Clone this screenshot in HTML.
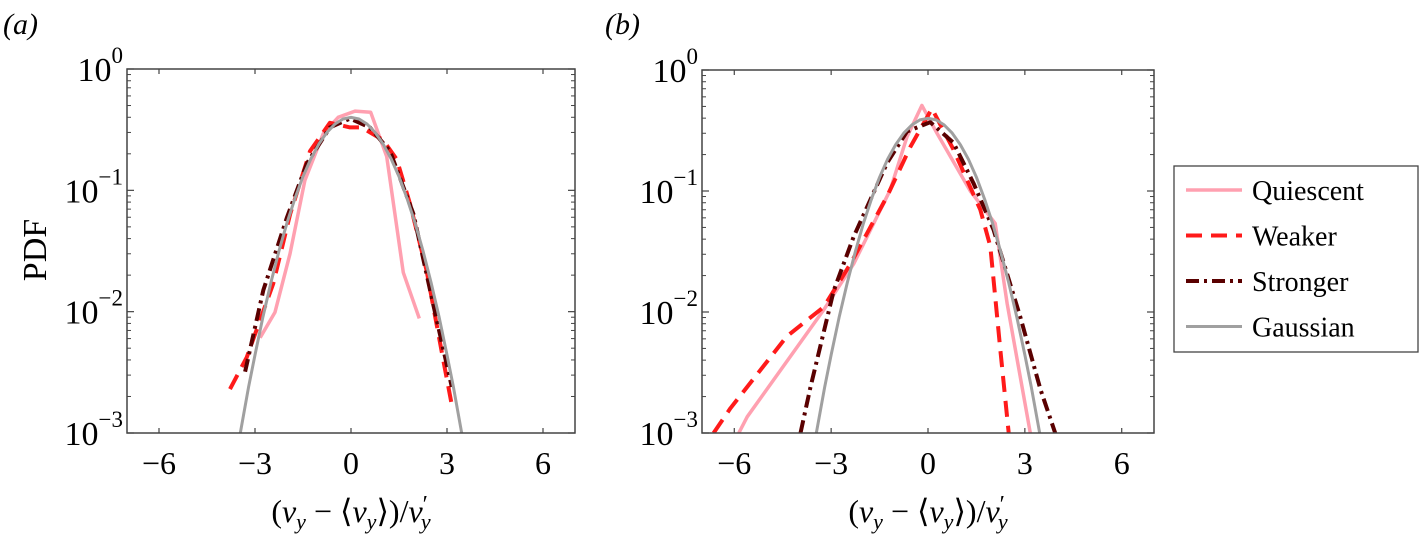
<!DOCTYPE html>
<html><head><meta charset="utf-8"><style>
body{margin:0;background:#fff;width:1421px;height:542px;overflow:hidden}
svg, svg text, svg tspan{font-family:"Liberation Serif","DejaVu Serif",serif;fill:#000}
</style></head><body>
<svg id="c" width="1421" height="542" font-family="Liberation Serif, serif"></svg>
<script>
const xTicks=[-6,-3,0,3,6];
const yDecades=[0,-1,-2,-3];
const legendLabels=["Quiescent","Weaker","Stronger","Gaussian"];
// panel a
const aQx=[-2.84,-2.375,-1.906,-1.44,-0.865,-0.40,0.125,0.615,1.115,1.635,2.135];
const aQy=[0.0061,0.0099,0.030,0.121,0.294,0.40,0.45,0.44,0.19,0.021,0.0088];
const aWx=[-3.78,-3.26,-2.43,-1.9,-1.28,-0.66,-0.03,0.33,1.0,1.43,1.84,2.36,2.89,3.15];
const aWy=[0.0023,0.0042,0.017,0.064,0.21,0.36,0.33,0.33,0.26,0.18,0.078,0.022,0.0039,0.0017];
const aSx=[-3.31,-2.74,-2.0,-1.38,-0.66,-0.03,0.59,1.22,1.95,2.57,3.15];
const aSy=[0.0032,0.015,0.06,0.166,0.33,0.39,0.33,0.21,0.064,0.0115,0.0024];
// gaussian (read values)
const gX=[-3.5,-3.2,-3,-2.75,-2.5,-2.25,-2,-1.75,-1.5,-1.25,-1,-0.75,-0.5,-0.25,0,0.25,0.5,0.75,1,1.25,1.5,1.75,2,2.25,2.5,2.75,3,3.2,3.5];
const gY=[0.00087,0.0024,0.0044,0.0091,0.0175,0.0317,0.054,0.086,0.130,0.183,0.242,0.301,0.352,0.387,0.399,0.387,0.352,0.301,0.242,0.183,0.130,0.086,0.054,0.0317,0.0175,0.0091,0.0044,0.0024,0.00087];
// panel b
const bQx=[-5.86,-5.6,-3.23,-2.3,-1.17,-0.65,-0.19,0.28,1.31,2.08,2.45,3.17];
const bQy=[0.001,0.00136,0.0104,0.025,0.102,0.28,0.51,0.30,0.10,0.054,0.0118,0.001];
const bWx=[-6.64,-6.12,-4.37,-3.23,-2.4,-1.27,-0.55,0.12,0.79,1.62,1.93,2.24,2.5];
const bWy=[0.001,0.0016,0.0063,0.011,0.025,0.09,0.23,0.48,0.22,0.07,0.035,0.0049,0.001];
const bSx=[-3.95,-3.64,-2.92,-2.3,-1.27,-0.65,0.07,0.79,1.41,2.03,2.86,3.48,3.94];
const bSy=[0.001,0.0024,0.015,0.042,0.17,0.31,0.37,0.25,0.116,0.048,0.0091,0.0023,0.001];

const NS="http://www.w3.org/2000/svg";
const svg=document.getElementById('c');
function el(t,a,p){const e=document.createElementNS(NS,t);for(const k in a)e.setAttribute(k,a[k]);(p||svg).appendChild(e);return e;}
const styles=[
 {stroke:"#ffa0b0",w:3.5,dash:""},
 {stroke:"#ff1a1a",w:4,dash:"16 9"},
 {stroke:"#5a0000",w:4,dash:"13 5 3 5"},
 {stroke:"#a0a0a0",w:3,dash:""}];
function panel(L,R,T,B,series,label,lx,names){
  const sx=v=>L+(v+7)/14*(R-L);
  const sy=v=>T+(-Math.log10(v))/3*(B-T);
  const g=el('g',{});
  
  
  const clip=el('clipPath',{id:'cl'+names},g);
  el('rect',{x:L,y:T,width:R-L,height:B-T},clip);
  series.forEach((s,i)=>{
    const st=styles[i];
    const d=s[0].map((x,j)=>(j?'L':'M')+sx(x).toFixed(1)+' '+sy(s[1][j]).toFixed(1)).join(' ');
    const p=el('path',{d:d,fill:'none',stroke:st.stroke,'stroke-width':st.w,'stroke-dasharray':st.dash,'clip-path':'url(#cl'+names+')','stroke-linejoin':'round'},g);
    
    
  });
  el('rect',{x:L,y:T,width:R-L,height:B-T,fill:'none',stroke:'#444','stroke-width':1.5},g);
  xTicks.forEach(t=>{
    const x=sx(t);
    el('line',{x1:x,x2:x,y1:B,y2:B-5,stroke:'#444','stroke-width':1.2},g);
    el('line',{x1:x,x2:x,y1:T,y2:T+5,stroke:'#444','stroke-width':1.2},g);
    const tx=el('text',{x:x,y:B+41,'text-anchor':'middle','font-size':32,'font-family':'Liberation Serif, serif'},g);
    tx.textContent=t<0?'\u2212'+(-t):String(t);
    
    
  });
  yDecades.forEach(dd=>{
    const y=sy(Math.pow(10,dd));
    el('line',{x1:L,x2:L+7,y1:y,y2:y,stroke:'#444','stroke-width':1.2},g);
    el('line',{x1:R,x2:R-7,y1:y,y2:y,stroke:'#444','stroke-width':1.2},g);
    if(dd>-3)for(let m=2;m<10;m++){
      const ym=sy(Math.pow(10,dd-1)*m);
      el('line',{x1:L,x2:L+4,y1:ym,y2:ym,stroke:'#444','stroke-width':1},g);
      el('line',{x1:R,x2:R-4,y1:ym,y2:ym,stroke:'#444','stroke-width':1},g);
    }
    const tx=el('text',{x:L-4,y:y+12,'text-anchor':'end','font-size':34,'font-family':'Liberation Serif, serif'},g);
    
    
    tx.textContent='10';
    const ts=el('tspan',{dy:-18,'font-size':23},tx);
    ts.textContent=dd===0?'0':'\u2212'+(-dd);
  });
  const pl=el('text',{x:lx,y:34,'font-size':30,'font-style':'italic','font-family':'Liberation Serif, serif'},g);
  pl.textContent=label;
  
  
  const xl=el('text',{x:(L+R)/2,y:522,'text-anchor':'middle','font-size':32,'font-family':'Liberation Serif, serif'},g);
  
  
  xl.innerHTML='(<tspan font-style="italic">v</tspan><tspan font-style="italic" font-size="22" dy="7">y</tspan><tspan dy="-7"> \u2212 \u27E8</tspan><tspan font-style="italic">v</tspan><tspan font-style="italic" font-size="22" dy="7">y</tspan><tspan dy="-7">\u27E9)/</tspan><tspan font-style="italic">v</tspan><tspan font-size="24" dy="-10">\u2032</tspan><tspan font-style="italic" font-size="22" dx="-7" dy="17">y</tspan>';
}
panel(127,575,69,433,[[aQx,aQy],[aWx,aWy],[aSx,aSy],[gX,gY]],'(a)',3,'a');
panel(702,1154,70,433,[[bQx,bQy],[bWx,bWy],[bSx,bSy],[gX,gY]],'(b)',605,'b');
const yl=el('text',{x:0,y:0,'font-size':34,transform:'translate(46,250) rotate(-90)','text-anchor':'middle','font-family':'Liberation Serif, serif'});
yl.textContent='PDF';


const lg=el('g',{});


el('rect',{x:1174,y:166,width:244,height:186,fill:'#fff',stroke:'#444','stroke-width':1.3},lg);
legendLabels.forEach((n,i)=>{
  const y=190+i*45.5, st=styles[i];
  const ln=el('line',{x1:1186,x2:1242,y1:y,y2:y,stroke:st.stroke,'stroke-width':st.w,'stroke-dasharray':st.dash},lg);
  
  
  const t=el('text',{x:1252,y:y+10,'font-size':28,'font-family':'Liberation Serif, serif'},lg);
  t.textContent=n;
  
  
});
</script>
</body></html>
